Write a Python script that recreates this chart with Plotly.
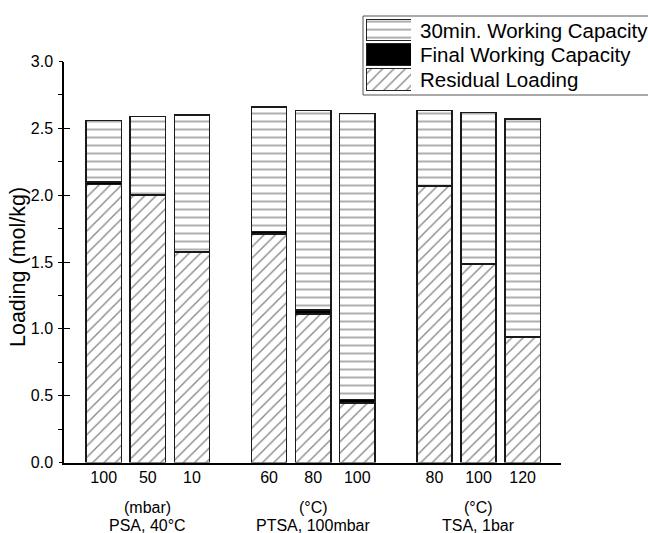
import plotly.graph_objects as go

# ---------------- data ----------------
group_names = ["PSA, 40°C", "PTSA, 100mbar", "TSA, 1bar"]
group_units = ["(mbar)", "(°C)", "(°C)"]
conditions = [["100", "50", "10"], ["60", "80", "100"], ["80", "100", "120"]]

residual_loading = [2.08, 2.00, 1.575, 1.71, 1.11, 0.445, 2.065, 1.485, 0.935]
final_working_capacity = [0.02, 0.005, 0.005, 0.02, 0.03, 0.025, 0.005, 0.005, 0.005]
working_capacity_30min = [0.46, 0.585, 1.02, 0.93, 1.495, 2.14, 0.565, 1.13, 1.63]

series_names = ["30min. Working Capacity", "Final Working Capacity", "Residual Loading"]
y_title = "Loading (mol/kg)"

# ---------------- positions ----------------
GROUP_GAP = 0.75
xpos, xlabels, group_centers = [], [], []
i = 0
for g, conds in enumerate(conditions):
    start = i + g * GROUP_GAP
    for c in conds:
        xpos.append(i + g * GROUP_GAP)
        xlabels.append(c)
        i += 1
    group_centers.append((start + xpos[-1]) / 2)

W, H = 648, 533
def px_x(p):
    return p / W
def px_y(p):
    return 1 - p / H

FONT = "Arial, Liberation Sans, sans-serif"
OUT = dict(color="#1a1a1a", width=1.4)

styles = {
    "Residual Loading": dict(color="white", line=OUT,
                             pattern=dict(shape="/", size=8, solidity=0.17,
                                          fgcolor="#111", bgcolor="white", fillmode="overlay")),
    "Final Working Capacity": dict(color="black", line=OUT),
    "30min. Working Capacity": dict(color="white", line=OUT,
                                    pattern=dict(shape="-", size=8, solidity=0.17,
                                                 fgcolor="#111", bgcolor="white", fillmode="overlay")),
}

fig = go.Figure()
for name, vals in [("Residual Loading", residual_loading),
                   ("Final Working Capacity", final_working_capacity),
                   ("30min. Working Capacity", working_capacity_30min)]:
    fig.add_trace(go.Bar(x=xpos, y=vals, name=name, width=0.8,
                         marker=styles[name], xaxis="x", yaxis="y", showlegend=False))

# invisible trace carrying the outward major-tick axis
fig.add_trace(go.Scatter(x=xpos, y=residual_loading, mode="markers", marker=dict(opacity=0),
                         xaxis="x", yaxis="y3", showlegend=False, hoverinfo="skip"))

# ---------------- custom legend (large swatches) ----------------
leg_rows = list(range(len(series_names)))[::-1]  # top row first
for name, row in zip(series_names, leg_rows):
    fig.add_trace(go.Bar(y=[row], x=[1], base=0, orientation="h", width=0.88,
                         marker=dict(styles[name], line=dict(color="#222", width=1)),
                         xaxis="x2", yaxis="y2", showlegend=False, hoverinfo="skip"))

fig.update_layout(
    width=W, height=H,
    margin=dict(l=0, r=0, t=0, b=0, autoexpand=False),
    plot_bgcolor="white", paper_bgcolor="white",
    barmode="stack",
    showlegend=False,
    font=dict(family=FONT, size=16, color="black"),
    xaxis=dict(domain=[px_x(64), px_x(561)], range=[-0.9, xpos[-1] + 0.87],
               tickvals=xpos, ticktext=xlabels, ticks="", showline=True,
               linecolor="black", linewidth=1.5, showgrid=False, zeroline=False,
               tickfont=dict(size=16), ticklabelstandoff=0, automargin=False),
    yaxis=dict(domain=[px_y(462.5), px_y(61.5)], range=[0, 3], tick0=0, dtick=0.5,
               tickformat=".1f", ticks="inside", ticklen=6, tickwidth=1.3,
               tickcolor="black", showline=True, linecolor="black", linewidth=1.5,
               showgrid=False, zeroline=False, tickfont=dict(size=16), automargin=False,
               ticklabelstandoff=6,
               minor=dict(dtick=0.25, ticks="outside", ticklen=4, tickcolor="black", tickwidth=1.2)),
    yaxis3=dict(overlaying="y", anchor="x", side="left", range=[0, 3], tick0=0, dtick=0.5,
                ticks="outside", ticklen=4, tickwidth=1.3, tickcolor="black",
                showticklabels=False, showline=False, showgrid=False, zeroline=False,
                automargin=False),
    xaxis2=dict(domain=[px_x(366), px_x(411)], range=[0, 1], visible=False, anchor="y2"),
    yaxis2=dict(domain=[px_y(92), px_y(17.6)], range=[-0.5, 2.5], visible=False, anchor="x2"),
)

# y-axis title
fig.add_annotation(x=px_x(18), y=px_y(267), xref="paper", yref="paper", text=y_title,
                   textangle=-90, showarrow=False, xanchor="center", yanchor="middle",
                   font=dict(size=21.5, family=FONT, color="black"))

# legend text and frame
leg_y = [30, 54.5, 79.5]
for name, yy in zip(series_names, leg_y):
    fig.add_annotation(x=px_x(418), y=px_y(yy), xref="paper", yref="paper",
                       text=name, showarrow=False, xanchor="left", yanchor="middle",
                       font=dict(size=20.5, family=FONT, color="black"))
fig.add_shape(type="rect", xref="paper", yref="paper",
              x0=px_x(363), x1=px_x(650), y0=px_y(95), y1=px_y(16),
              line=dict(color="#555", width=1))

# group labels under axis
for gc, unit, gname in zip(group_centers, group_units, group_names):
    fig.add_annotation(x=gc, y=px_y(507), xref="x", yref="paper", text=unit,
                       showarrow=False, yanchor="middle", font=dict(size=16, family=FONT))
    fig.add_annotation(x=gc, y=px_y(525), xref="x", yref="paper", text=gname,
                       showarrow=False, yanchor="middle", font=dict(size=16, family=FONT))

fig.write_html("out.html")
